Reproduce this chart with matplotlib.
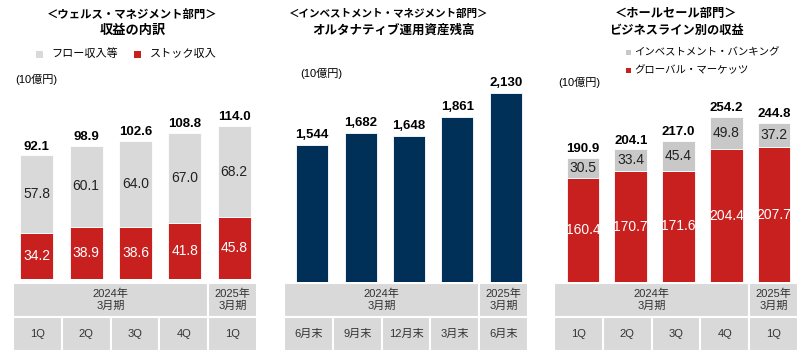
import matplotlib
matplotlib.use("Agg")
import matplotlib.pyplot as plt
from matplotlib.patches import Rectangle

plt.rcParams['font.family'] = ['Liberation Sans', 'Noto Sans CJK JP']

# data
wm_periods = ['1Q', '2Q', '3Q', '4Q', '1Q']
wm_flow = [57.8, 60.1, 64.0, 67.0, 68.2]
wm_stock = [34.2, 38.9, 38.6, 41.8, 45.8]
wm_total = [92.1, 98.9, 102.6, 108.8, 114.0]

im_periods = ['6月末', '9月末', '12月末', '3月末', '6月末']
im_aum = [1544, 1682, 1648, 1861, 2130]

ws_periods = ['1Q', '2Q', '3Q', '4Q', '1Q']
ws_ib = [30.5, 33.4, 45.4, 49.8, 37.2]
ws_gm = [160.4, 170.7, 171.6, 204.4, 207.7]
ws_total = [190.9, 204.1, 217.0, 254.2, 244.8]

fy_labels = ['2024年\n3月期', '2025年\n3月期']

RED = '#C8201F'
GRAY = '#D9D9D9'
GRAY2 = '#C8C8C8'
NAVY = '#003057'
CELL = '#D9D9D9'

W, H = 800, 353
fig = plt.figure(figsize=(8, 3.53), dpi=100)


def px_axes(x0, y0, x1, y1):
    ax = fig.add_axes([x0 / W, 1 - y1 / H, (x1 - x0) / W, (y1 - y0) / H])
    ax.axis('off')
    return ax


def ftext(x, y, s, **kw):
    fig.text(x / W, 1 - y / H, s, **kw)


def fsquare(x, y, size, color):
    fig.patches.append(Rectangle((x / W, 1 - (y + size) / H), size / W, size / H,
                                 fc=color, transform=fig.transFigure, figure=fig))


def draw_table(x0, x1, periods):
    ax = px_axes(x0, 283, x1, 351)
    ax.set_xlim(-0.5, 4.5)
    ax.set_ylim(0, 2)
    # year row: 4 merged cells + 1
    ax.add_patch(Rectangle((-0.5, 1), 4, 1, fc=CELL, ec='white', lw=1.5))
    ax.add_patch(Rectangle((3.5, 1), 1, 1, fc=CELL, ec='white', lw=1.5))
    ax.text(1.5, 1.5, fy_labels[0], ha='center', va='center', fontsize=8,
            color='#333333', linespacing=1.25)
    ax.text(4.0, 1.5, fy_labels[1], ha='center', va='center', fontsize=8,
            color='#333333', linespacing=1.25)
    for i, p in enumerate(periods):
        ax.add_patch(Rectangle((i - 0.5, 0), 1, 1, fc=CELL, ec='white', lw=1.5))
        ax.text(i, 0.5, p, ha='center', va='center', fontsize=8, color='#333333')


x = range(5)

# ---- panel 1: wealth management revenue breakdown
ax1 = px_axes(12, 40, 259, 279)
ax1.set_xlim(-0.5, 4.5)
ax1.set_ylim(0, 177.8)
ax1.bar(x, wm_stock, width=0.67, color=RED, edgecolor='white', linewidth=0.6)
ax1.bar(x, wm_flow, width=0.67, bottom=wm_stock, color=GRAY, edgecolor='white', linewidth=0.6)
for i in x:
    ax1.text(i, wm_stock[i] / 2, f"{wm_stock[i]:.1f}", ha='center', va='center',
             fontsize=10, color='white')
    ax1.text(i, wm_stock[i] + wm_flow[i] / 2, f"{wm_flow[i]:.1f}", ha='center',
             va='center', fontsize=10, color='#222222')
    ax1.text(i, wm_total[i] + 2, f"{wm_total[i]:.1f}", ha='center', va='bottom',
             fontsize=9.5, fontweight='bold', color='black')
draw_table(13, 257, wm_periods)

ftext(132, 14, '＜ウェルス・マネジメント部門＞', ha='center', va='center',
      fontsize=8.2, fontweight='bold')
ftext(133, 31, '収益の内訳', ha='center', va='center', fontsize=9.5, fontweight='bold')
fsquare(36, 51, 7, GRAY)
ftext(51, 54, 'フロー収入等', ha='left', va='center', fontsize=8)
fsquare(134, 51, 7, RED)
ftext(150, 54, 'ストック収入', ha='left', va='center', fontsize=8)
ftext(15, 79, '(10億円)', ha='left', va='center', fontsize=8)

# ---- panel 2: investment management alternative AuM
ax2 = px_axes(288, 40, 530, 282)
ax2.set_xlim(-0.5, 4.5)
ax2.set_ylim(0, 2728)
ax2.bar(x, im_aum, width=0.66, color=NAVY, edgecolor='white', linewidth=0.6)
for i in x:
    ax2.text(i, im_aum[i] + 40, f"{im_aum[i]:,}", ha='center', va='bottom',
             fontsize=9.5, fontweight='bold', color='black')
draw_table(284, 528, im_periods)

ftext(389, 14, '＜インベストメント・マネジメント部門＞', ha='center', va='center',
      fontsize=7.6, fontweight='bold')
ftext(393, 31, 'オルタナティブ運用資産残高', ha='center', va='center',
      fontsize=9, fontweight='bold')
ftext(300, 73, '(10億円)', ha='left', va='center', fontsize=8)

# ---- panel 3: wholesale revenue by business line
ax3 = px_axes(559, 40, 798, 282)
ax3.set_xlim(-0.5, 4.5)
ax3.set_ylim(0, 372.5)
ax3.bar(x, ws_gm, width=0.68, color=RED, edgecolor='white', linewidth=0.6)
ax3.bar(x, ws_ib, width=0.68, bottom=ws_gm, color=GRAY2, edgecolor='white', linewidth=0.6)
for i in x:
    ax3.text(i, ws_gm[i] / 2, f"{ws_gm[i]:.1f}", ha='center', va='center',
             fontsize=10, color='white')
    ax3.text(i, ws_gm[i] + ws_ib[i] / 2, f"{ws_ib[i]:.1f}", ha='center',
             va='center', fontsize=10, color='#222222')
    ax3.text(i, ws_total[i] + 4, f"{ws_total[i]:.1f}", ha='center', va='bottom',
             fontsize=9.5, fontweight='bold', color='black')
draw_table(554, 798, ws_periods)

ftext(676, 14, '＜ホールセール部門＞', ha='center', va='center',
      fontsize=8.8, fontweight='bold')
ftext(676, 31, 'ビジネスライン別の収益', ha='center', va='center',
      fontsize=8.8, fontweight='bold')
fsquare(626, 50, 5, GRAY2)
ftext(634, 52, 'インベストメント・バンキング', ha='left', va='center', fontsize=7.5)
fsquare(626, 68, 5, RED)
ftext(634, 70, 'グローバル・マーケッツ', ha='left', va='center', fontsize=7.5)
ftext(558, 82, '(10億円)', ha='left', va='center', fontsize=8)

fig.savefig('out.png', dpi=100)
